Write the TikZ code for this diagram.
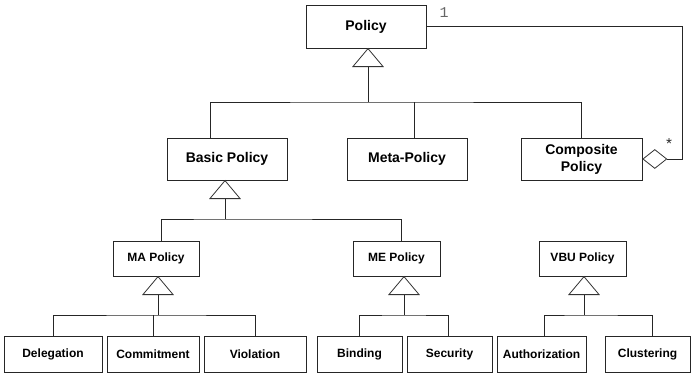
\documentclass[tikz,border=0pt]{standalone}
\usepackage{fontspec}
\setmainfont{Liberation Sans}
\setmonofont{Liberation Mono}
\usetikzlibrary{shapes.geometric}
\begin{document}
\begin{tikzpicture}[x=1pt,y=-1pt,
  line width=0.8pt,
  cls/.style={draw=black!85, fill=white, inner sep=0pt, font=\bfseries},
  big/.style={cls, font=\fontsize{14}{17}\selectfont\bfseries},
  mid/.style={cls, font=\fontsize{12}{14}\selectfont\bfseries},
  small/.style={cls, font=\fontsize{12}{14}\selectfont\bfseries},
  link/.style={draw=black!85},
  gen/.style={draw=black!80, fill=white, isosceles triangle, isosceles triangle apex angle=80, shape border rotate=90, inner sep=0pt, minimum height=18pt, minimum width=30pt},
  agg/.style={draw=black!80, fill=white, diamond, inner sep=0pt, minimum width=24pt, minimum height=19pt},
  mult/.style={text=black!60, font=\fontsize{15}{16}\selectfont\ttfamily}]
\useasboundingbox (0,0) rectangle (691,374);

% boxes: centre, width, height
\node[big, minimum width=120pt, minimum height=43pt] (policy) at (366,26.5) {Policy};
\node[big, minimum width=120pt, minimum height=42pt] (basic) at (227,159) {Basic Policy};
\node[big, minimum width=120pt, minimum height=42pt] (meta) at (407,159) {Meta-Policy};
\node[big, minimum width=121pt, minimum height=42pt, align=center] (comp) at (581.5,159) {Composite\\Policy};

\node[mid, minimum width=86pt, minimum height=35pt] (ma) at (156,258.5) {MA Policy};
\node[mid, minimum width=87pt, minimum height=35pt] (me) at (396.5,258.5) {ME Policy};
\node[mid, minimum width=87pt, minimum height=35pt] (vbu) at (582.5,258.5) {VBU Policy};

\node[small, minimum width=98pt, minimum height=36pt] (del) at (53,354.5) {Delegation};
\node[small, minimum width=92pt, minimum height=36pt] (com) at (153,354.5) {Commitment};
\node[small, minimum width=102pt, minimum height=36pt] (vio) at (255,354.5) {Violation};
\node[small, minimum width=85pt, minimum height=36pt] (bin) at (359.5,354.5) {Binding};
\node[small, minimum width=85pt, minimum height=36pt] (sec) at (449.5,354.5) {Security};
\node[small, minimum width=89pt, minimum height=36pt] (aut) at (541.5,354.5) {Authorization};
\node[small, minimum width=85pt, minimum height=36pt] (clu) at (647.5,354.5) {Clustering};

% generalisation triangles
\node[gen, anchor=apex] (tp) at (368,48) {};
\node[gen, anchor=apex] (tb) at (225,180) {};
\node[gen, anchor=apex] (tma) at (158,276) {};
\node[gen, anchor=apex] (tme) at (404,276) {};
\node[gen, anchor=apex] (tvbu) at (584,276) {};

% junction points of the inheritance trees
\coordinate (jp) at (368,102);
\coordinate (jb) at (225,219);
\coordinate (jma) at (158,315);
\coordinate (jme) at (404,315);
\coordinate (jvbu) at (584,315);

\draw[link] (tp.south) -- (jp);
\draw[link] (basic.north -| 210,0) |- (jp) -| (comp.north);
\draw[link] (meta.north -| 414,0) -- (414,102);

\draw[link] (tb.south) -- (jb);
\draw[link] (ma.north -| 161,0) |- (jb) -| (me.north -| 401,0);

\draw[link] (tma.south) -- (jma);
\draw[link] (del.north) |- (jma) -| (vio.north);
\draw[link] (com.north) -- (com.north |- jma);

\draw[link] (tme.south) -- (jme);
\draw[link] (bin.north) |- (jme) -| (sec.north -| 448,0);

\draw[link] (tvbu.south) -- (jvbu);
\draw[link] (aut.north -| 544,0) |- (jvbu) -| (clu.north -| 652,0);

% aggregation of policies into a composite
\node[agg, anchor=west] (dia) at (comp.east) {};
\draw[link] (dia.east) -- (682,159) |- (policy.east);
\node[mult, anchor=west] (m1) at (436,13) {1};
\node[mult, text=black!85] (m2) at (669,144) {*};
\end{tikzpicture}
\end{document}
